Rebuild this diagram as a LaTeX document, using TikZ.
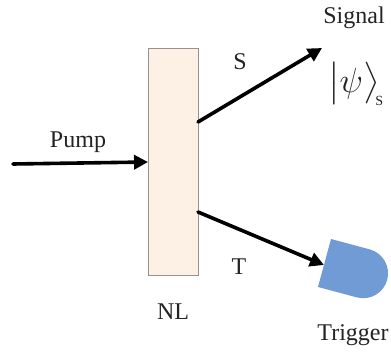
\documentclass[tikz,border=0pt]{standalone}
\usepackage{amsmath}
\usepackage{graphicx}
\usepackage{fontspec}
\setmainfont{Liberation Serif}
\usepackage{tikz}
\usetikzlibrary{arrows.meta}

\begin{document}
\begin{tikzpicture}[x=1pt,y=1pt]
	\definecolor{nlfill}{RGB}{253,240,229}
	\definecolor{nlbd}{RGB}{150,145,140}
	\definecolor{detblue}{RGB}{112,155,213}
	\definecolor{labelgray}{RGB}{35,35,35}
	\tikzset{
		crystal/.style={
			rectangle,
			draw=nlbd,
			fill=nlfill,
			line width=0.9pt,
			minimum width=50pt,
			minimum height=227pt,
			inner sep=0pt
		},
		beam/.style={
			line width=3.6pt,
			line cap=round,
			-{Triangle[length=14pt,width=14pt]}
		},
		lbl/.style={
			font=\fontsize{24}{26}\selectfont,
			text=labelgray,
			inner sep=0pt
		}
	}
	\useasboundingbox (0,0) rectangle (391,354);

	% ======= NL crystal =======
	\node[crystal] (nl) at (173.5,192.5) {};
	\coordinate (pumpin) at (13,190);
	\coordinate (sout) at (198,232);
	\coordinate (tout) at (198,142);
	\coordinate (sig) at (322,306);
	\coordinate (detin) at (324,89);

	% ======= Detector =======
	\draw[draw=none,fill=detblue] (331,115) -- ++(-15:40) arc [start angle=75, end angle=-105, radius=24.85] -- (318,67) -- cycle;

	% ======= Beams =======
	\draw[beam] (pumpin) -- (nl.west |- 0,192);
	\draw[beam] (sout) -- (sig);
	\draw[beam] (tout) -- (detin);

	% ======= Labels =======
	\node[lbl] (pumplbl) at (78,212) {Pump};
	\node[lbl] (slbl) at (240,292) {S};
	\node[lbl] (tlbl) at (239,87) {T};
	\node[lbl] (nllbl) at (173,42) {NL};
	\node[lbl] (siglbl) at (354,336) {Signal};
	\node[lbl] (trglbl) at (353,19) {Trigger};
	\node[lbl] (ketlbl) at (356,270) {\scalebox{1.4}{$\big|\psi\big\rangle_{\!\text{\fontsize{10}{11}\selectfont S}}$}};
\end{tikzpicture}
\end{document}
